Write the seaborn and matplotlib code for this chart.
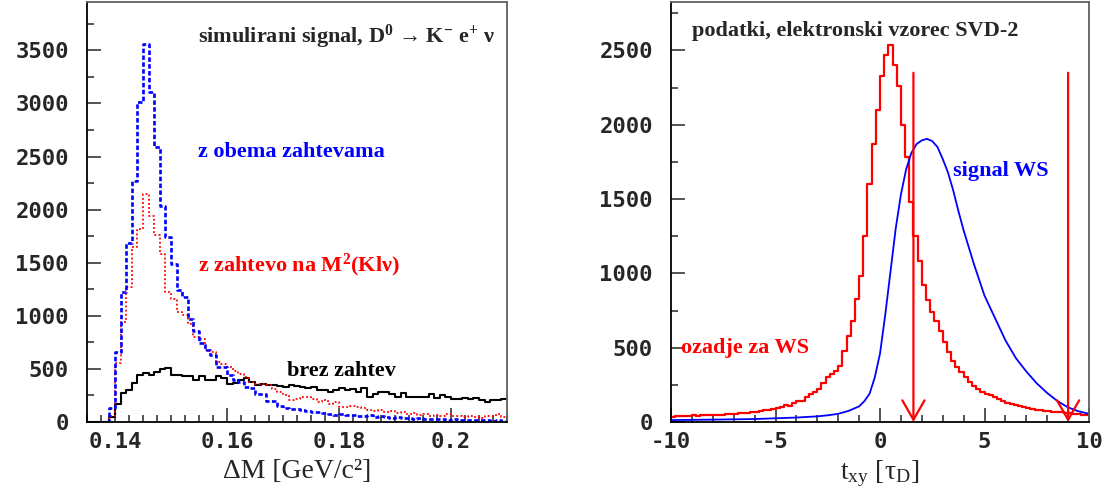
import numpy as np
import pandas as pd
import matplotlib
matplotlib.use("Agg")
import matplotlib.pyplot as plt
import seaborn as sns
from matplotlib.ticker import MultipleLocator, FuncFormatter

# --- levi graf: Delta M, bini po 0.001 GeV/c^2 od 0.135 do 0.21 ---
dm_lo, dm_w = 0.135, 0.001
brez_zahtev = [0, 0, 0, 0, 45, 170, 270, 300, 365, 445, 460, 445, 475, 495, 505,
               445, 440, 435, 430, 395, 430, 395, 400, 435, 410, 360, 365, 395, 410, 380,
               350, 360, 350, 350, 340, 330, 350, 335, 330, 320, 330, 305, 305, 280, 305,
               320, 305, 315, 280, 320, 240, 265, 280, 280, 265, 240, 270, 240, 235, 240,
               235, 260, 230, 250, 235, 220, 220, 230, 220, 230, 205, 190, 205, 210, 220]
z_zahtevo_m2 = [0, 0, 0, 0, 60, 560, 940, 1270, 1650, 1820, 2150, 1945, 1760, 1585, 1225,
                1160, 1035, 1005, 925, 800, 780, 675, 655, 565, 545, 515, 485, 455, 420, 375,
                360, 360, 345, 310, 280, 250, 205, 220, 235, 240, 220, 185, 205, 170, 185,
                140, 145, 155, 145, 135, 110, 105, 110, 95, 105, 85, 95, 80, 85, 70,
                80, 60, 70, 60, 80, 55, 60, 45, 55, 45, 40, 55, 60, 80, 45]
z_obema = [0, 0, 0, 0, 130, 660, 1220, 1690, 2270, 3010, 3560, 3110, 2590, 2030, 1740,
           1490, 1240, 1180, 970, 860, 740, 680, 630, 520, 520, 440, 400, 380, 330, 320,
           260, 260, 200, 200, 150, 130, 125, 120, 110, 105, 95, 90, 85, 80, 70,
           75, 65, 70, 60, 55, 65, 50, 55, 45, 40, 45, 35, 40, 30, 35,
           30, 25, 30, 25, 20, 25, 20, 20, 15, 20, 15, 15, 10, 15, 10]

# --- desni graf: t_xy, bini po 0.2 od -10 do 10 ---
txy_lo, txy_w = -10.0, 0.2
ozadje_ws = [35, 40, 38, 42, 40, 44, 42, 46, 44, 48, 46, 50, 48, 53, 56, 54, 58, 62, 60, 66,
             70, 74, 80, 78, 86, 92, 100, 112, 108, 128, 142, 138, 165, 190, 205, 225, 260, 300, 320, 345,
             380, 480, 580, 680, 830, 980, 1250, 1600, 1870, 2100, 2330, 2470, 2540, 2400, 2260, 2000, 1780, 1480, 1250, 1080,
             920, 820, 740, 680, 610, 540, 470, 410, 370, 335, 300, 270, 245, 220, 200, 190, 180, 170, 155, 140,
             130, 120, 112, 105, 100, 92, 88, 82, 80, 76, 72, 70, 66, 64, 60, 58, 55, 52, 50, 47]
signal_t = [-10, -8, -6, -5, -4, -3, -2.5, -2, -1.5, -1.0, -0.75, -0.5, -0.25, 0, 0.25, 0.5,
            0.75, 1.0, 1.25, 1.5, 1.75, 2.0, 2.25, 2.5, 2.75, 3.0, 3.25, 3.5, 3.75, 4.0,
            4.5, 5.0, 5.5, 6.0, 6.5, 7.0, 7.5, 8.0, 8.5, 9.0, 9.5, 10]
signal_ws = [13, 16, 20, 25, 30, 38, 45, 55, 75, 105, 140, 190, 300, 460, 720, 1010,
             1300, 1530, 1700, 1810, 1870, 1895, 1905, 1890, 1850, 1770, 1680, 1560, 1420, 1290,
             1060, 850, 700, 550, 430, 340, 260, 195, 140, 98, 72, 55]
cut_positions = [1.6, 9.0]
cut_arrow_top = 2350

assert len(brez_zahtev) == len(z_zahtevo_m2) == len(z_obema) == 75
assert len(ozadje_ws) == 100 and len(signal_t) == len(signal_ws)

sns.set_style("ticks")
plt.rcParams['font.family'] = ['Liberation Serif', 'DejaVu Serif']
plt.rcParams['mathtext.fontset'] = 'custom'
plt.rcParams['mathtext.rm'] = 'Liberation Serif'
plt.rcParams['mathtext.it'] = 'Liberation Serif:italic'
plt.rcParams['mathtext.bf'] = 'Liberation Serif:bold'
plt.rcParams['axes.unicode_minus'] = False

TICK_FONT = dict(family='DejaVu Sans Mono', weight='bold', size=16)
LBL_SIZE = 16


def step_hist(ax, lo, w, counts, **kw):
    edges = [lo + w * i for i in range(len(counts) + 1)]
    df = pd.DataFrame({'x': [e + w / 2 for e in edges[:-1]], 'n': counts})
    sns.histplot(data=df, x='x', weights='n', bins=edges, element='step',
                 fill=False, ax=ax, **kw)


def style_axes(ax):
    ax.tick_params(which='both', direction='in', top=False, right=False, width=1.1)
    ax.tick_params(which='major', length=10)
    ax.tick_params(which='minor', length=5)
    ax.tick_params(axis='x', which='major', pad=7)
    ax.tick_params(axis='y', which='major', pad=13)
    for side in ['left', 'bottom']:
        ax.spines[side].set_color('black')
        ax.spines[side].set_linewidth(1.3)
    for side in ['top', 'right']:
        ax.spines[side].set_color('#606060')
        ax.spines[side].set_linewidth(1.3)
    for lab in ax.get_xticklabels() + ax.get_yticklabels():
        lab.set_fontproperties(TICK_FONT)
    ax.set_ylabel('')


fig = plt.figure(figsize=(11.05, 4.96), dpi=100)
ax1 = fig.add_axes([87 / 1105, 74 / 496, 420 / 1105, 420 / 496])
ax2 = fig.add_axes([671 / 1105, 74 / 496, 418 / 1105, 420 / 496])

# levi
step_hist(ax1, dm_lo, dm_w, brez_zahtev, color='black', linewidth=1.5)
step_hist(ax1, dm_lo, dm_w, z_zahtevo_m2, color='red', linewidth=1.3, linestyle=(0, (1, 1.3)))
step_hist(ax1, dm_lo, dm_w, z_obema, color='blue', linewidth=1.9, linestyle=(0, (1.7, 0.9)))
ax1.set_xlim(0.135, 0.21)
ax1.set_ylim(0, 3956)
ax1.xaxis.set_major_locator(MultipleLocator(0.02))
ax1.xaxis.set_minor_locator(MultipleLocator(0.0025))
ax1.xaxis.set_major_formatter(FuncFormatter(lambda v, p: f'{v:g}'))
ax1.yaxis.set_major_locator(MultipleLocator(500))
ax1.yaxis.set_minor_locator(MultipleLocator(250))
style_axes(ax1)
ax1.set_xlabel('ΔM [GeV/c²]', fontsize=20, labelpad=5)

ax1.text(0.264, 0.902, r'simulirani signal, D$^{\mathbf{0}}$ → K$^{\mathbf{-}}$ e$^{\mathbf{+}}$ ν',
         transform=ax1.transAxes, fontsize=LBL_SIZE, fontweight='bold', va='baseline')
ax1.text(0.264, 0.630, 'z obema zahtevama', color='blue', transform=ax1.transAxes,
         fontsize=LBL_SIZE, fontweight='bold', va='baseline')
ax1.text(0.264, 0.360, r'z zahtevo na M$^{\mathbf{2}}$(Klν)', color='red', transform=ax1.transAxes,
         fontsize=LBL_SIZE, fontweight='bold', va='baseline')
ax1.text(0.476, 0.110, 'brez zahtev', color='black', transform=ax1.transAxes,
         fontsize=LBL_SIZE, fontweight='bold', va='baseline')

# desni
step_hist(ax2, txy_lo, txy_w, ozadje_ws, color='red', linewidth=1.6)
sns.lineplot(x=signal_t, y=signal_ws, color='blue', linewidth=1.3, ax=ax2)
for xc in cut_positions:
    ax2.annotate('', xy=(xc, 0), xytext=(xc, cut_arrow_top),
                 arrowprops=dict(arrowstyle='->,head_length=1.4,head_width=0.8',
                                 color='red', lw=1.6, shrinkA=0, shrinkB=0,
                                 mutation_scale=10))
ax2.set_xlim(-10, 10)
ax2.set_ylim(0, 2826)
ax2.xaxis.set_major_locator(MultipleLocator(5))
ax2.xaxis.set_minor_locator(MultipleLocator(1))
ax2.yaxis.set_major_locator(MultipleLocator(500))
ax2.yaxis.set_minor_locator(MultipleLocator(250))
style_axes(ax2)
ax2.set_xlabel(r't$_{\mathrm{xy}}$ [τ$_{\mathrm{D}}$]', fontsize=20, labelpad=5)

ax2.text(0.0495, 0.919, 'podatki, elektronski vzorec SVD-2', transform=ax2.transAxes,
         fontsize=LBL_SIZE, fontweight='bold', va='baseline')
ax2.text(0.674, 0.586, 'signal WS', color='blue', transform=ax2.transAxes,
         fontsize=LBL_SIZE, fontweight='bold', va='baseline')
ax2.text(0.024, 0.165, 'ozadje za WS', color='red', transform=ax2.transAxes,
         fontsize=LBL_SIZE, fontweight='bold', va='baseline')

fig.savefig('out.png', dpi=100, facecolor='white')
